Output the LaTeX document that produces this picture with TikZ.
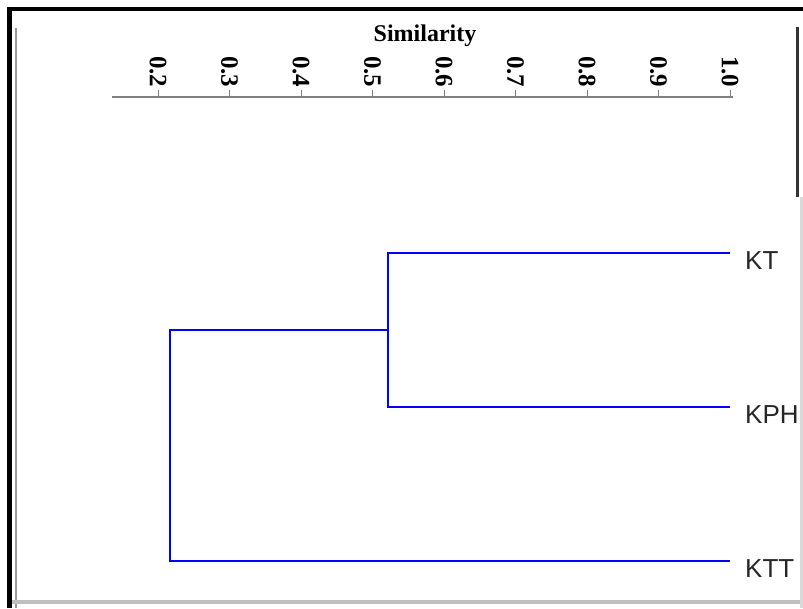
\documentclass[tikz,border=0pt]{standalone}
\usepackage{fontspec}
\setmainfont{Liberation Serif}
\newfontfamily\labelfont{Liberation Sans}
\begin{document}
\begin{tikzpicture}[x=1pt,y=-1pt,
  branch/.style={draw=blue, line width=2.6pt},
  leaflabel/.style={anchor=west, font=\labelfont\fontsize{26}{26}\selectfont, text=black!85, inner sep=0pt},
  ticklabel/.style={rotate=-90, anchor=west, font=\bfseries\fontsize{25}{25}\selectfont, inner sep=0pt},
  axisline/.style={draw=black!50, line width=1.6pt},
  frameedge/.style={fill=black},
  softedge/.style={fill=black!40}]
\useasboundingbox (0,0) rectangle (803,608);
\fill[white] (0,0) rectangle (803,608);

% window frame
\fill[frameedge] (7,7) rectangle (803,11);
\fill[frameedge] (7,7) rectangle (12,608);
\fill[softedge] (15,28) rectangle (17,608);
\fill[black!25] (12,600) rectangle (803,604);
\fill[black!15] (800,197) rectangle (803,608);
\fill[black!80] (795.5,27) rectangle (798.5,197);

% similarity axis
\node[font=\bfseries\fontsize{24}{24}\selectfont] (title) at (425,36) {Similarity};
\coordinate (axl) at (112,97);
\coordinate (axr) at (733,97);
\draw[axisline] (axl) -- (axr);
\foreach \v/\t in {0.2/0.2,0.3/0.3,0.4/0.4,0.5/0.5,0.6/0.6,0.7/0.7,0.8/0.8,0.9/0.9,1.0/1.0} {
  \pgfmathsetmacro{\px}{158+(\v-0.2)*715}
  \draw[axisline, line width=1pt] (\px,90) -- (\px,97);
  \node[ticklabel] at (\px,56) {\t};
}

% leaves
\coordinate (kt-end) at (730,253);
\coordinate (kph-end) at (730,407);
\coordinate (ktt-end) at (730,561);
\node[leaflabel] (kt) at (745,261) {KT};
\node[leaflabel] (kph) at (745,415) {KPH};
\node[leaflabel] (ktt) at (745,569) {KTT};

% merges
\coordinate (j1) at (388,330);
\coordinate (j2) at (170,445.5);
\draw[branch] (kt-end) -| (j1) |- (kph-end);
\draw[branch] (j1) -| (j2) |- (ktt-end);
\end{tikzpicture}
\end{document}
